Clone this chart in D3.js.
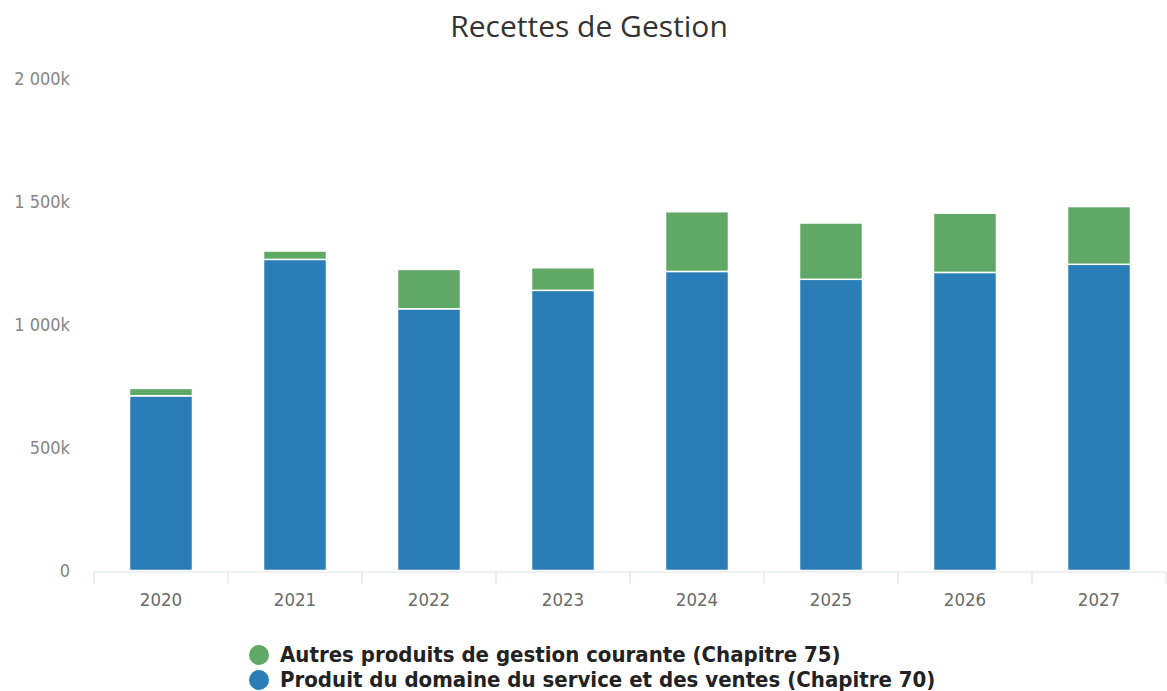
<!DOCTYPE html>
<html>
<head>
<meta charset="utf-8">
<script src="https://cdn.jsdelivr.net/npm/d3@7"></script>
<style>
  html, body { margin: 0; padding: 0; background: #fff; }
  svg { display: block; }
</style>
</head>
<body>
<svg id="chart" width="1167" height="691"></svg>
<script>
// Recettes de gestion, en milliers d'euros
const years = ["2020", "2021", "2022", "2023", "2024", "2025", "2026", "2027"];
const chapitre70 = [711, 1266, 1065, 1140, 1217, 1185, 1213, 1246];
const chapitre75 = [30, 34, 160, 92, 243, 229, 241, 235];
const yTicks = [0, 500, 1000, 1500, 2000];
const seriesNames = [
  "Autres produits de gestion courante (Chapitre 75)",
  "Produit du domaine du service et des ventes (Chapitre 70)"
];
const colors = { c70: "#2b7db8", c75: "#5fa866" };

const svg = d3.select("#chart");
const margin = { left: 94, right: 1166, top: 79, bottom: 570.5 };

const x = d3.scaleBand().domain(years).range([margin.left, margin.right]).paddingInner(0.53).paddingOuter(0.265);
const y = d3.scaleLinear().domain([0, 2000]).range([margin.bottom, margin.top]);

const rows = years.map((yr, i) => ({ year: yr, c70: chapitre70[i], c75: chapitre75[i] }));
const stack = d3.stack().keys(["c70", "c75"])(rows);

// Title
svg.append("text")
  .attr("x", 589).attr("y", 37)
  .attr("text-anchor", "middle")
  .attr("font-family", "'Open Sans', sans-serif")
  .attr("font-size", 30)
  .attr("fill", "#333")
  .text("Recettes de Gestion");

// Y axis labels (no grid lines)
const fmt = v => v === 0 ? "0" : d3.format(",")(v).replace(/,/g, " ") + "k";
svg.append("g").selectAll("text").data(yTicks).join("text")
  .attr("x", 70).attr("y", d => y(d) + 6)
  .attr("text-anchor", "end")
  .attr("font-family", "'DejaVu Sans Condensed', 'DejaVu Sans', sans-serif")
  .attr("font-size", 18)
  .attr("fill", "#858585")
  .text(fmt);

// Bars
svg.append("g").selectAll("g").data(stack).join("g")
  .attr("fill", d => colors[d.key])
  .selectAll("rect").data(d => d).join("rect")
    .attr("x", d => x(d.data.year))
    .attr("width", x.bandwidth())
    .attr("y", d => y(d[1]))
    .attr("height", d => y(d[0]) - y(d[1]))
    .attr("stroke", "#fff")
    .attr("stroke-width", 1.5);

// X axis
const xAxis = svg.append("g").attr("transform", `translate(0,${margin.bottom + 1.5})`);
xAxis.append("line")
  .attr("x1", margin.left).attr("x2", margin.right)
  .attr("stroke", "#dde3ea").attr("stroke-width", 1);
const bounds = years.map(yr => x(yr) - x.step() * x.paddingInner() / 2).concat([margin.right]);
xAxis.selectAll("line.tick").data(bounds).join("line")
  .attr("class", "tick")
  .attr("x1", d => d).attr("x2", d => d)
  .attr("y1", 0).attr("y2", 12)
  .attr("stroke", "#d8dee6");
xAxis.selectAll("text").data(years).join("text")
  .attr("x", d => x(d) + x.bandwidth() / 2)
  .attr("y", 34)
  .attr("text-anchor", "middle")
  .attr("font-family", "'DejaVu Sans Condensed', 'DejaVu Sans', sans-serif")
  .attr("font-size", 18.5)
  .attr("fill", "#6a6a6a")
  .text(d => d);

// Legend
const legend = svg.append("g");
const legendItems = [
  { name: seriesNames[0], color: colors.c75 },
  { name: seriesNames[1], color: colors.c70 }
];
legend.selectAll("g").data(legendItems).join("g")
  .attr("transform", (d, i) => `translate(259,${655 + i * 25})`)
  .each(function (d) {
    const g = d3.select(this);
    g.append("circle").attr("r", 10).attr("fill", d.color);
    g.append("text")
      .attr("x", 21).attr("y", 7)
      .attr("font-family", "'DejaVu Sans Condensed', 'DejaVu Sans', sans-serif")
      .attr("font-size", 22)
      .attr("font-weight", "bold")
      .attr("fill", "#222")
      .text(d.name);
  });
</script>
</body>
</html>
